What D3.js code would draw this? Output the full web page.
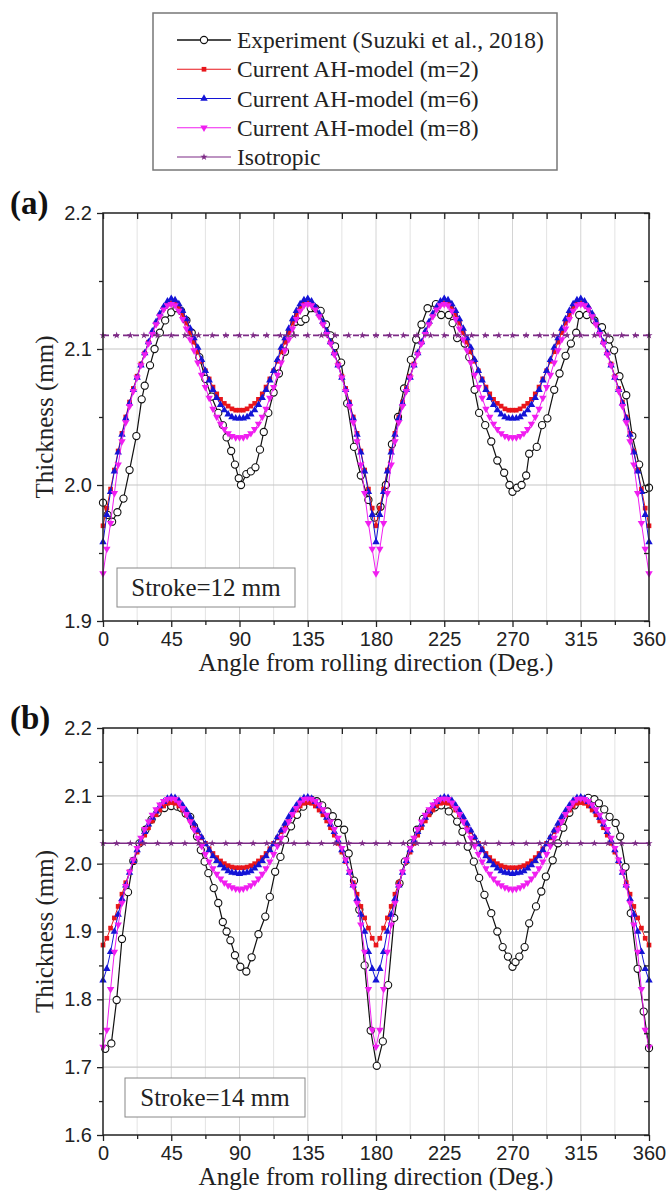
<!DOCTYPE html>
<html>
<head>
<meta charset="utf-8">
<script src="https://cdn.jsdelivr.net/npm/d3@7/dist/d3.min.js"></script>
<style>
  html, body { margin: 0; padding: 0; background: #fff; }
  svg { display: block; }
</style>
</head>
<body>
<svg id="chart" width="668" height="1192"></svg>
<script>
// ---- data ----
var xTicks = [0, 45, 90, 135, 180, 225, 270, 315, 360];
var xMinor = [22.5, 67.5, 112.5, 157.5, 202.5, 247.5, 292.5, 337.5];
var modelAngles = d3.range(0, 360.001, 2.5);   // model output every 2.5 deg
var isoAngles = [0,9,18,27,36,45,54,63,72,81,90,99,108,117,126,135,144,153,162,171,180,189,198,207,216,225,234,243,252,261,270,279,288,297,306,315,324,333,342,351,360];

// (a) stroke = 12 mm
var isoA = 2.11;
var redA = [
  1.970,1.983,1.997,2.011,2.025,2.038,2.050,2.061,2.071,2.080,2.089,2.097,2.105,2.112,2.119,2.125,2.130,2.133,2.134,2.133,2.130,2.125,2.119,2.112,2.105,2.098,2.091,2.084,2.078,2.072,2.067,2.063,2.060,2.058,2.056,2.055,2.055,
  2.055,2.056,2.058,2.060,2.063,2.067,2.072,2.078,2.084,2.091,2.098,2.105,2.112,2.119,2.125,2.130,2.133,2.134,2.133,2.130,2.125,2.119,2.112,2.105,2.097,2.089,2.080,2.071,2.061,2.050,2.038,2.025,2.011,1.997,1.983,1.970,
  1.983,1.997,2.011,2.025,2.038,2.050,2.061,2.071,2.080,2.089,2.097,2.105,2.112,2.119,2.125,2.130,2.133,2.134,2.133,2.130,2.125,2.119,2.112,2.105,2.098,2.091,2.084,2.078,2.072,2.067,2.063,2.060,2.058,2.056,2.055,2.055,
  2.055,2.056,2.058,2.060,2.063,2.067,2.072,2.078,2.084,2.091,2.098,2.105,2.112,2.119,2.125,2.130,2.133,2.134,2.133,2.130,2.125,2.119,2.112,2.105,2.097,2.089,2.080,2.071,2.061,2.050,2.038,2.025,2.011,1.997,1.983,1.970
];
var blueA = [
  1.958,1.978,1.995,2.010,2.024,2.037,2.049,2.060,2.070,2.079,2.088,2.097,2.105,2.113,2.120,2.126,2.131,2.135,2.137,2.136,2.133,2.128,2.122,2.115,2.108,2.101,2.092,2.084,2.077,2.070,2.064,2.059,2.055,2.052,2.050,2.049,2.049,
  2.049,2.050,2.052,2.055,2.059,2.064,2.070,2.077,2.084,2.092,2.101,2.108,2.115,2.122,2.128,2.133,2.136,2.137,2.135,2.131,2.126,2.120,2.113,2.105,2.097,2.088,2.079,2.070,2.060,2.049,2.037,2.024,2.010,1.995,1.978,1.958,
  1.978,1.995,2.010,2.024,2.037,2.049,2.060,2.070,2.079,2.088,2.097,2.105,2.113,2.120,2.126,2.131,2.135,2.137,2.136,2.133,2.128,2.122,2.115,2.108,2.101,2.092,2.084,2.077,2.070,2.064,2.059,2.055,2.052,2.050,2.049,2.049,
  2.049,2.050,2.052,2.055,2.059,2.064,2.070,2.077,2.084,2.092,2.101,2.108,2.115,2.122,2.128,2.133,2.136,2.137,2.135,2.131,2.126,2.120,2.113,2.105,2.097,2.088,2.079,2.070,2.060,2.049,2.037,2.024,2.010,1.995,1.978,1.958
];
var magA = [
  1.935,1.953,1.972,1.994,2.015,2.032,2.046,2.058,2.069,2.079,2.088,2.096,2.104,2.111,2.118,2.124,2.129,2.132,2.133,2.132,2.128,2.122,2.115,2.107,2.099,2.090,2.081,2.072,2.064,2.056,2.050,2.045,2.041,2.038,2.036,2.035,2.035,
  2.035,2.036,2.038,2.041,2.045,2.050,2.056,2.064,2.072,2.081,2.090,2.099,2.107,2.115,2.122,2.128,2.132,2.133,2.132,2.129,2.124,2.118,2.111,2.104,2.096,2.088,2.079,2.069,2.058,2.046,2.032,2.015,1.994,1.972,1.953,1.935,
  1.953,1.972,1.994,2.015,2.032,2.046,2.058,2.069,2.079,2.088,2.096,2.104,2.111,2.118,2.124,2.129,2.132,2.133,2.132,2.128,2.122,2.115,2.107,2.099,2.090,2.081,2.072,2.064,2.056,2.050,2.045,2.041,2.038,2.036,2.035,2.035,
  2.035,2.036,2.038,2.041,2.045,2.050,2.056,2.064,2.072,2.081,2.090,2.099,2.107,2.115,2.122,2.128,2.132,2.133,2.132,2.129,2.124,2.118,2.111,2.104,2.096,2.088,2.079,2.069,2.058,2.046,2.032,2.015,1.994,1.972,1.953,1.935
];
var expAngleA = [0,3,6,9.5,13.5,17.5,22,25.5,27.5,31,34,37.5,41,45,48.5,51.5,55,58.5,63.5,67.5,71.5,76,79,81.5,84.5,87,89.5,91,94.5,97.5,100.5,103.5,106,109,112.5,116,120,123.5,127,130.5,133.5,137,140,143.5,147,150,153,157,161,165.5,170,175,179,183,186.5,190.5,194.5,198.5,203,206.5,210,214,219.5,223,228,230.5,233.5,238.5,241.5,245,248,252,256,260,264.5,268,270,273,276,279,281,286,289.5,293,297.5,301,305,308.5,312,314,319,324,329,334,337,340.5,345,349,353.5,357.5,360];
var expThickA = [1.987,1.978,1.973,1.980,1.990,2.011,2.036,2.063,2.073,2.088,2.100,2.112,2.121,2.127,2.130,2.128,2.121,2.112,2.094,2.078,2.065,2.053,2.044,2.035,2.025,2.015,2.005,2.000,2.008,2.010,2.013,2.026,2.039,2.053,2.068,2.082,2.098,2.112,2.120,2.120,2.122,2.130,2.130,2.128,2.118,2.110,2.102,2.090,2.060,2.028,2.007,1.989,1.976,1.984,2.000,2.030,2.050,2.071,2.092,2.107,2.118,2.130,2.133,2.125,2.125,2.119,2.108,2.104,2.094,2.070,2.053,2.044,2.032,2.018,2.009,2.000,1.995,1.998,2.000,2.007,2.023,2.028,2.044,2.049,2.070,2.082,2.095,2.104,2.112,2.125,2.125,2.121,2.116,2.107,2.099,2.080,2.066,2.036,2.015,1.997,1.998];

// (b) stroke = 14 mm
var isoB = 2.03;
var redB = [
  1.880,1.890,1.905,1.920,1.937,1.955,1.972,1.988,2.003,2.017,2.030,2.042,2.053,2.063,2.072,2.079,2.085,2.089,2.090,2.089,2.085,2.079,2.072,2.064,2.056,2.047,2.038,2.030,2.022,2.015,2.009,2.004,2.000,1.997,1.995,1.994,1.994,
  1.994,1.995,1.997,2.000,2.004,2.009,2.015,2.022,2.030,2.038,2.047,2.056,2.064,2.072,2.079,2.085,2.089,2.090,2.089,2.085,2.079,2.072,2.063,2.053,2.042,2.030,2.017,2.003,1.988,1.972,1.955,1.937,1.920,1.905,1.890,1.880,
  1.890,1.905,1.920,1.937,1.955,1.972,1.988,2.003,2.017,2.030,2.042,2.053,2.063,2.072,2.079,2.085,2.089,2.090,2.089,2.085,2.079,2.072,2.064,2.056,2.047,2.038,2.030,2.022,2.015,2.009,2.004,2.000,1.997,1.995,1.994,1.994,
  1.994,1.995,1.997,2.000,2.004,2.009,2.015,2.022,2.030,2.038,2.047,2.056,2.064,2.072,2.079,2.085,2.089,2.090,2.089,2.085,2.079,2.072,2.063,2.053,2.042,2.030,2.017,2.003,1.988,1.972,1.955,1.937,1.920,1.905,1.890,1.880
];
var blueB = [
  1.828,1.845,1.870,1.900,1.925,1.948,1.968,1.987,2.004,2.020,2.034,2.047,2.058,2.068,2.077,2.085,2.091,2.096,2.098,2.097,2.093,2.086,2.078,2.069,2.059,2.049,2.039,2.029,2.020,2.011,2.004,1.998,1.993,1.989,1.987,1.986,1.985,
  1.986,1.987,1.989,1.993,1.998,2.004,2.011,2.020,2.029,2.039,2.049,2.059,2.069,2.078,2.086,2.093,2.097,2.098,2.096,2.091,2.085,2.077,2.068,2.058,2.047,2.034,2.020,2.004,1.987,1.968,1.948,1.925,1.900,1.870,1.845,1.828,
  1.845,1.870,1.900,1.925,1.948,1.968,1.987,2.004,2.020,2.034,2.047,2.058,2.068,2.077,2.085,2.091,2.096,2.098,2.097,2.093,2.086,2.078,2.069,2.059,2.049,2.039,2.029,2.020,2.011,2.004,1.998,1.993,1.989,1.987,1.986,1.985,
  1.986,1.987,1.989,1.993,1.998,2.004,2.011,2.020,2.029,2.039,2.049,2.059,2.069,2.078,2.086,2.093,2.097,2.098,2.096,2.091,2.085,2.077,2.068,2.058,2.047,2.034,2.020,2.004,1.987,1.968,1.948,1.925,1.900,1.870,1.845,1.828
];
var magB = [
  1.730,1.755,1.815,1.870,1.910,1.942,1.967,1.988,2.006,2.023,2.038,2.051,2.062,2.072,2.080,2.087,2.092,2.095,2.096,2.095,2.090,2.082,2.073,2.062,2.050,2.038,2.026,2.014,2.003,1.993,1.985,1.978,1.972,1.968,1.965,1.963,1.962,
  1.963,1.965,1.968,1.972,1.978,1.985,1.993,2.003,2.014,2.026,2.038,2.050,2.062,2.073,2.082,2.090,2.095,2.096,2.095,2.092,2.087,2.080,2.072,2.062,2.051,2.038,2.023,2.006,1.988,1.967,1.942,1.910,1.870,1.815,1.755,1.730,
  1.755,1.815,1.870,1.910,1.942,1.967,1.988,2.006,2.023,2.038,2.051,2.062,2.072,2.080,2.087,2.092,2.095,2.096,2.095,2.090,2.082,2.073,2.062,2.050,2.038,2.026,2.014,2.003,1.993,1.985,1.978,1.972,1.968,1.965,1.963,1.962,
  1.963,1.965,1.968,1.972,1.978,1.985,1.993,2.003,2.014,2.026,2.038,2.050,2.062,2.073,2.082,2.090,2.095,2.096,2.095,2.092,2.087,2.080,2.072,2.062,2.051,2.038,2.023,2.006,1.988,1.967,1.942,1.910,1.870,1.815,1.755,1.730
];
var expAngleB = [1.5,5.5,9,12.5,16.5,20,24,28,32,36,40.5,45,49,51.5,54.5,57.5,60,62,64.5,67,69.5,73,76,79,81.5,84,87,90.5,94.5,98,102.5,107,110,113.5,117,120,124,128,132,137.5,141,144.5,148,151.5,155,159,162,165.5,169,172.5,176.5,180.5,184.5,188,192,195.5,199,203,207,211,215,219,223,228,233.5,237,240.5,244.5,248,251.5,256,260,263.5,267,270,272,274.5,278,281,285.5,289,292,296.5,300,303.5,307.5,311,316,320,324,327,330.5,334,338,341,344.5,348,352.5,356.5,360];
var expThickB = [1.727,1.735,1.799,1.889,1.958,2.004,2.030,2.050,2.065,2.075,2.082,2.085,2.084,2.082,2.074,2.069,2.055,2.040,2.020,2.003,1.986,1.964,1.942,1.914,1.900,1.887,1.865,1.848,1.841,1.862,1.896,1.922,1.951,1.988,2.010,2.035,2.055,2.072,2.084,2.094,2.092,2.086,2.077,2.070,2.060,2.050,2.015,1.975,1.932,1.850,1.754,1.702,1.738,1.821,1.920,1.971,2.003,2.030,2.050,2.066,2.076,2.083,2.086,2.077,2.062,2.047,2.025,2.003,1.979,1.954,1.927,1.900,1.877,1.863,1.848,1.855,1.863,1.877,1.912,1.937,1.959,1.981,2.005,2.030,2.053,2.075,2.086,2.094,2.097,2.095,2.089,2.080,2.069,2.060,2.040,1.995,1.927,1.845,1.782,1.728];

var legendLabels = ["Experiment (Suzuki et al., 2018)", "Current AH-model (m=2)", "Current AH-model (m=6)", "Current AH-model (m=8)", "Isotropic"];

// ---- style ----
var C = { exp: "#111", red: "#e8161b", blue: "#1414d6", mag: "#f01ef0", iso: "#7d2b86" };
var SERIF = "'Liberation Serif', 'Times New Roman', serif";
var SANS = "'Liberation Sans', Arial, sans-serif";
var X0 = 103, X1 = 649;

var svg = d3.select("#chart");

function zip(xs, ys) {
    var n = Math.min(xs.length, ys.length), out = [];
    for (var i = 0; i < n; i++) out.push([xs[i], ys[i]]);
    return out;
}

var markers = {
    exp:  function(sel) { sel.append("circle").attr("r", 3.6).attr("fill", "#fff").attr("stroke", C.exp).attr("stroke-width", 1.1); },
    red:  function(sel) { sel.append("path").attr("d", d3.symbol(d3.symbolSquare, 22)()).attr("fill", C.red); },
    blue: function(sel) { sel.append("path").attr("d", d3.symbol(d3.symbolTriangle, 24)()).attr("fill", C.blue); },
    mag:  function(sel) { sel.append("path").attr("d", d3.symbol(d3.symbolTriangle, 24)()).attr("transform", "rotate(180)").attr("fill", C.mag); },
    iso:  function(sel) { sel.append("path").attr("d", d3.symbol(d3.symbolStar, 16)()).attr("fill", C.iso); }
};

function drawSeries(g, x, y, pts, key, color, lw, dash) {
    var line = d3.line().x(function(d) { return x(d[0]); }).y(function(d) { return y(d[1]); });
    g.append("path").datum(pts)
        .attr("d", line)
        .attr("fill", "none")
        .attr("stroke", color)
        .attr("stroke-width", lw)
        .attr("stroke-dasharray", dash || null);
    g.append("g").selectAll("g").data(pts).join("g")
        .attr("transform", function(d) { return "translate(" + x(d[0]) + "," + y(d[1]) + ")"; })
        .each(function() { markers[key](d3.select(this)); });
}

function drawPanel(p) {
    var x = d3.scaleLinear().domain([0, 360]).range([X0, X1]);
    var y = d3.scaleLinear().domain(p.yDomain).range([p.bottom, p.top]);
    var w = X1 - X0, h = p.bottom - p.top;
    var g = svg.append("g");

    // grid
    var grid = g.append("g");
    grid.selectAll(".vminor").data(xMinor).join("line")
        .attr("x1", x).attr("x2", x).attr("y1", p.top).attr("y2", p.bottom)
        .attr("stroke", "#e3e3e3").attr("stroke-width", 1);
    grid.selectAll(".vmajor").data(xTicks.slice(1, -1)).join("line")
        .attr("x1", x).attr("x2", x).attr("y1", p.top).attr("y2", p.bottom)
        .attr("stroke", "#d4d4d4").attr("stroke-width", 1);
    grid.selectAll(".hmajor").data(p.yTicks.slice(1, -1)).join("line")
        .attr("x1", X0).attr("x2", X1).attr("y1", y).attr("y2", y)
        .attr("stroke", "#c6c6c6").attr("stroke-width", 1.2);

    // stroke label box
    var sb = g.append("g");
    sb.append("rect").attr("x", p.box[0]).attr("y", p.box[1]).attr("width", p.box[2]).attr("height", p.box[3])
        .attr("fill", "#fff").attr("stroke", "#888").attr("stroke-width", 1);
    sb.append("text").attr("x", p.box[0] + p.box[2] / 2).attr("y", p.box[1] + p.box[3] / 2 + 8)
        .attr("text-anchor", "middle").attr("font-family", SERIF).attr("font-size", 25).attr("fill", "#222")
        .text(p.strokeText);

    // series
    var s = g.append("g");
    drawSeries(s, x, y, zip(p.expAngles, p.exp), "exp", C.exp, 1.2);
    drawSeries(s, x, y, zip(modelAngles, p.red), "red", C.red, 1);
    drawSeries(s, x, y, zip(modelAngles, p.blue), "blue", C.blue, 1);
    drawSeries(s, x, y, zip(modelAngles, p.mag), "mag", C.mag, 1);
    drawSeries(s, x, y, isoAngles.map(function(a) { return [a, p.iso]; }), "iso", C.iso, 1.6, p.isoDash);

    // axes
    var ax = g.append("g").attr("font-family", SANS);
    ax.append("g").attr("transform", "translate(0," + p.bottom + ")")
        .call(d3.axisBottom(x).tickValues(xTicks).tickSize(6).tickPadding(5).tickFormat(d3.format("d")));
    ax.append("g").attr("transform", "translate(0," + p.bottom + ")")
        .call(d3.axisBottom(x).tickValues(xMinor).tickSize(4).tickFormat(""));
    ax.append("g").attr("transform", "translate(0," + p.top + ")")
        .call(d3.axisTop(x).tickValues(xTicks.concat(xMinor)).tickSize(-6).tickFormat(""));
    ax.append("g").attr("transform", "translate(" + X0 + ",0)")
        .call(d3.axisLeft(y).tickValues(p.yTicks).tickSize(6).tickPadding(5).tickFormat(d3.format(".1f")));
    ax.append("g").attr("transform", "translate(" + X0 + ",0)")
        .call(d3.axisLeft(y).tickValues(p.yMinor).tickSize(4).tickFormat(""));
    ax.append("g").attr("transform", "translate(" + X1 + ",0)")
        .call(d3.axisRight(y).tickValues(p.yTicks.concat(p.yMinor)).tickSize(-5).tickFormat(""));
    ax.selectAll(".domain").remove();
    ax.selectAll(".tick line").attr("stroke", "#222").attr("stroke-width", 1.3);
    ax.selectAll(".tick text").attr("font-size", 20).attr("fill", "#222");

    g.append("rect").attr("x", X0).attr("y", p.top).attr("width", w).attr("height", h)
        .attr("fill", "none").attr("stroke", "#222").attr("stroke-width", 1.5);

    // titles
    g.append("text").attr("x", (X0 + X1) / 2).attr("y", p.bottom + 50)
        .attr("text-anchor", "middle").attr("font-family", SERIF).attr("font-size", 25).attr("fill", "#222")
        .text("Angle from rolling direction (Deg.)");
    g.append("text").attr("transform", "translate(53," + (p.top + h / 2) + ") rotate(-90)")
        .attr("text-anchor", "middle").attr("font-family", SERIF).attr("font-size", 25).attr("fill", "#222")
        .text("Thickness (mm)");
    g.append("text").attr("x", 10).attr("y", p.top + 1)
        .attr("font-family", SERIF).attr("font-weight", "bold").attr("font-size", 33).attr("fill", "#111")
        .text(p.label);
}

drawPanel({
    top: 213, bottom: 621, yDomain: [1.9, 2.2],
    yTicks: [1.9, 2.0, 2.1, 2.2], yMinor: [1.95, 2.05, 2.15],
    label: "(a)", strokeText: "Stroke=12 mm", box: [117, 568, 178, 39],
    red: redA, blue: blueA, mag: magA, iso: isoA, isoDash: "6,4",
    expAngles: expAngleA, exp: expThickA
});
drawPanel({
    top: 728, bottom: 1135, yDomain: [1.6, 2.2],
    yTicks: [1.6, 1.7, 1.8, 1.9, 2.0, 2.1, 2.2], yMinor: [1.65, 1.75, 1.85, 1.95, 2.05, 2.15],
    label: "(b)", strokeText: "Stroke=14 mm", box: [125, 1078, 180, 39],
    red: redB, blue: blueB, mag: magB, iso: isoB, isoDash: null,
    expAngles: expAngleB, exp: expThickB
});

// ---- legend ----
var lg = svg.append("g");
lg.append("rect").attr("x", 153).attr("y", 13).attr("width", 404).attr("height", 157)
    .attr("fill", "#fff").attr("stroke", "#777").attr("stroke-width", 1.5);
var legendKeys = ["exp", "red", "blue", "mag", "iso"];
var legendRowY = d3.scalePoint().domain(d3.range(legendKeys.length)).range([40, 157]);
legendKeys.forEach(function(k, i) {
    var yy = legendRowY(i);
    lg.append("line").attr("x1", 177).attr("x2", 231).attr("y1", yy).attr("y2", yy)
        .attr("stroke", C[k]).attr("stroke-width", k === "exp" ? 1.4 : 1.2);
    var m = lg.append("g").attr("transform", "translate(204," + yy + ")");
    markers[k](m);
    lg.append("text").attr("x", 237).attr("y", yy + 8)
        .attr("font-family", SERIF).attr("font-size", 23.5).attr("fill", "#222")
        .text(legendLabels[i]);
});
</script>
</body>
</html>
